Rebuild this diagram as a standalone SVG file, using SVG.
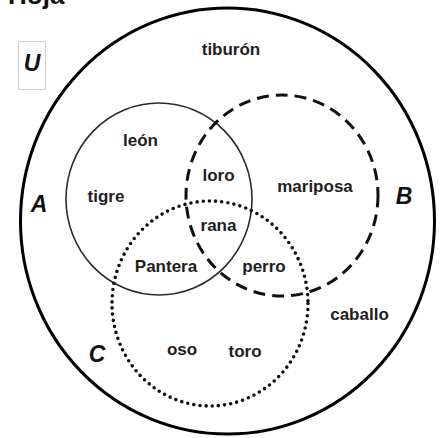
<svg xmlns="http://www.w3.org/2000/svg" width="440" height="438" viewBox="0 0 440 438">
  <style>
    .lbl { font-family: "Liberation Sans", Arial, sans-serif; font-weight: bold; font-size: 17px; fill: #1e1e1e; text-anchor: middle; }
    .set { font-family: "Liberation Sans", Arial, sans-serif; font-weight: bold; font-style: italic; font-size: 23px; fill: #111; text-anchor: middle; }
    .ring { fill: none; }
  </style>
  <rect width="440" height="438" fill="#ffffff"/>
  <g id="title">
    <text x="8" y="4" style="font-family:'Liberation Sans',Arial,sans-serif;font-weight:bold;font-size:26px;fill:#111">Hoja</text>
  </g>
  <g id="universe">
    <ellipse class="ring" cx="227.5" cy="221" rx="207" ry="213" stroke="#000" stroke-width="3"/>
    <rect x="18.5" y="41.5" width="27" height="48" fill="none" stroke="#d0d0d0" stroke-width="1"/>
    <text class="set" x="32" y="71">U</text>
  </g>
  <g id="setA">
    <ellipse class="ring" cx="159" cy="199" rx="93" ry="96" stroke="#2a2a2a" stroke-width="1.6"/>
    <text class="set" x="39" y="212">A</text>
  </g>
  <g id="setB">
    <ellipse class="ring" cx="282" cy="195.5" rx="96" ry="100.5" stroke="#111" stroke-width="3" stroke-dasharray="12 7"/>
    <text class="set" x="404" y="204">B</text>
  </g>
  <g id="setC">
    <ellipse class="ring" cx="210" cy="303.5" rx="98" ry="102.5" stroke="#111" stroke-width="3.6" stroke-dasharray="0 6.2" stroke-linecap="round"/>
    <text class="set" x="97" y="362">C</text>
  </g>
  <g id="elements">
    <text class="lbl" x="231" y="55">tiburón</text>
    <text class="lbl" x="140.5" y="146">león</text>
    <text class="lbl" x="218.5" y="181">loro</text>
    <text class="lbl" x="106" y="202">tigre</text>
    <text class="lbl" x="315" y="192">mariposa</text>
    <text class="lbl" x="218.5" y="231">rana</text>
    <text class="lbl" x="166" y="272">Pantera</text>
    <text class="lbl" x="264" y="272">perro</text>
    <text class="lbl" x="359.5" y="320">caballo</text>
    <text class="lbl" x="182" y="355">oso</text>
    <text class="lbl" x="245" y="357">toro</text>
  </g>
</svg>
